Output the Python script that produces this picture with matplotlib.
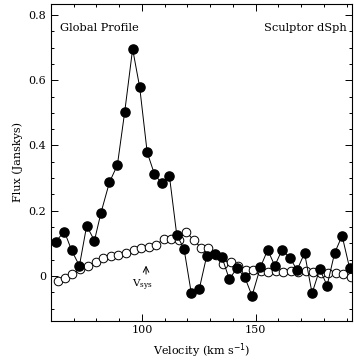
import matplotlib
matplotlib.use("Agg")
import matplotlib.pyplot as plt
from matplotlib.ticker import MultipleLocator

# global profile (filled) and model/baseline profile (open)
vel_obs = [62.0, 65.9, 69.1, 72.5, 75.7, 79.1, 82.0, 85.7, 89.2, 92.4,
           95.9, 99.0, 102.3, 105.5, 108.7, 112.1, 115.3, 118.5, 121.7, 125.2,
           128.5, 132.2, 135.2, 138.4, 141.8, 145.2, 148.4, 152.1, 155.3, 158.4,
           161.6, 165.0, 168.2, 171.5, 174.8, 178.2, 181.4, 184.7, 188.0, 191.3]
flux_obs = [0.105, 0.136, 0.078, 0.031, 0.154, 0.108, 0.194, 0.287, 0.340, 0.502,
            0.696, 0.579, 0.379, 0.312, 0.284, 0.305, 0.126, 0.083, -0.053, -0.040,
            0.062, 0.067, 0.057, -0.010, 0.024, -0.004, -0.061, 0.027, 0.080, 0.031,
            0.080, 0.056, 0.018, 0.070, -0.053, 0.021, -0.030, 0.070, 0.123, 0.024]

vel_mod = [62.9, 66.2, 69.4, 72.8, 76.1, 79.6, 83.0, 86.4, 89.6, 93.0,
           96.3, 99.6, 102.9, 106.1, 109.6, 112.9, 116.1, 119.3, 122.7, 125.9,
           129.2, 132.5, 135.7, 139.0, 142.3, 145.6, 148.9, 152.2, 155.5, 158.8,
           162.1, 165.4, 168.7, 172.0, 175.3, 178.6, 181.9, 185.2, 188.5, 191.8]
flux_mod = [-0.017, -0.007, 0.005, 0.021, 0.031, 0.044, 0.054, 0.061, 0.064, 0.070,
            0.078, 0.085, 0.090, 0.095, 0.113, 0.113, 0.110, 0.136, 0.110, 0.087,
            0.087, 0.065, 0.037, 0.044, 0.029, 0.018, 0.018, 0.015, 0.012, 0.015,
            0.012, 0.015, 0.012, 0.015, 0.012, 0.010, 0.010, 0.008, 0.005, -0.002]

plt.rcParams['font.family'] = 'DejaVu Serif'

fig = plt.figure(figsize=(3.54, 3.61), dpi=100)
ax = fig.add_axes([0.144, 0.112, 0.850, 0.877])

ax.plot(vel_mod, flux_mod, '-', color='black', lw=0.7, marker='o', ms=6.2,
        mfc='white', mec='black', mew=0.7, zorder=2)
ax.plot(vel_obs, flux_obs, '-', color='black', lw=0.7, marker='o', ms=6.6,
        mfc='black', mec='black', zorder=3)

ax.set_xlim(60, 192.3)
ax.set_ylim(-0.137, 0.834)
ax.xaxis.set_major_locator(MultipleLocator(50))
ax.xaxis.set_minor_locator(MultipleLocator(10))
ax.yaxis.set_major_locator(MultipleLocator(0.2))
ax.yaxis.set_minor_locator(MultipleLocator(0.05))
ax.yaxis.set_major_formatter(plt.FuncFormatter(lambda v, p: '0' if abs(v) < 1e-9 else f'{v:.1f}'))
ax.tick_params(which='both', direction='in', top=True, right=True, labelsize=8, width=0.7)
ax.tick_params(which='major', length=5)
ax.tick_params(which='minor', length=2.5)
for s in ax.spines.values():
    s.set_linewidth(0.8)

ax.set_xlabel('Velocity (km s$^{-1}$)', fontsize=8)
ax.set_ylabel('Flux (Janskys)', fontsize=8)

ax.text(0.03, 0.94, 'Global Profile', transform=ax.transAxes, fontsize=8.2, va='top')
ax.text(0.982, 0.94, 'Sculptor dSph', transform=ax.transAxes, fontsize=8.2, va='top', ha='right')

ax.annotate('', xy=(101.8, 0.04), xytext=(101.8, -0.003),
            arrowprops=dict(arrowstyle='->', lw=0.7, color='black'))
ax.text(100.3, -0.03, 'V$_{\\mathregular{sys}}$', fontsize=7.5, ha='center', va='center')

fig.savefig('out.png', dpi=100)
